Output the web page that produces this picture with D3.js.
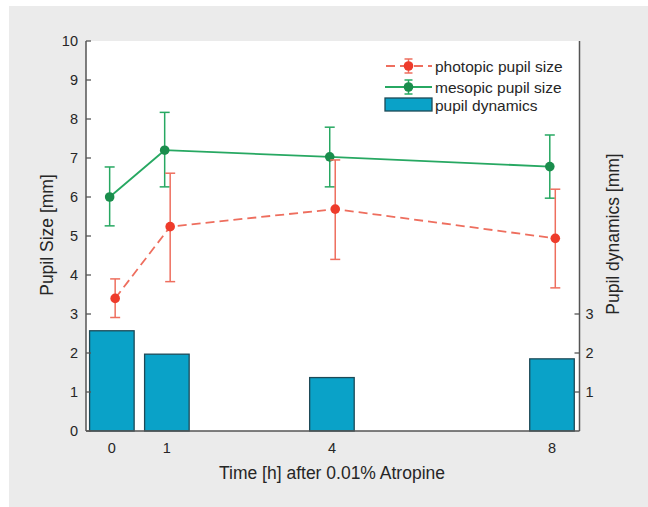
<!DOCTYPE html>
<html><head><meta charset="utf-8">
<script src="https://cdn.jsdelivr.net/npm/d3@7"></script>
<style>body{margin:0;background:#fff;} svg{display:block;font-family:"Liberation Sans",Arial,sans-serif;}</style>
</head><body>
<svg id="c" width="648" height="507"></svg>
<script>
const hours = [0, 1, 4, 8];
const xTicks = [0, 1, 4, 8];
const photopic = [3.40, 5.24, 5.69, 4.94];
const photopicLo = [2.91, 3.83, 4.40, 3.67];
const photopicHi = [3.90, 6.61, 6.95, 6.20];
const mesopic = [6.00, 7.20, 7.03, 6.78];
const mesopicLo = [5.26, 6.26, 6.26, 5.97];
const mesopicHi = [6.77, 8.17, 7.79, 7.59];
const dynamics = [2.57, 1.97, 1.37, 1.85];
const leftTicks = [0,1,2,3,4,5,6,7,8,9,10];
const rightTicks = [1,2,3];
const legendLabels = ["photopic pupil size","mesopic pupil size","pupil dynamics"];

const svg = d3.select("#c");
svg.append("rect").attr("x",9).attr("y",6).attr("width",639).attr("height",501).attr("fill","#ebebeb");

const L=86, R=579.5, T=41, B=431;
const x = d3.scaleLinear().domain([-0.47, 8.5]).range([L, R]);
const y = d3.scaleLinear().domain([0, 10]).range([B, T]);
const y2 = d3.scaleLinear().domain([0, 10]).range([B, T]);

svg.append("rect").attr("x",L).attr("y",T).attr("width",R-L).attr("height",B-T).attr("fill","#fff");

const barW = 0.81;
const barColor = "#0aa2c8", barStroke = "#1d4a57";
svg.append("g").selectAll("rect").data(hours).join("rect")
  .attr("x", (d)=>x(d-barW/2)).attr("width",(d)=>x(d+barW/2)-x(d-barW/2))
  .attr("y",(d,i)=>y2(dynamics[i])).attr("height",(d,i)=>y2(0)-y2(dynamics[i]))
  .attr("fill",barColor).attr("stroke",barStroke).attr("stroke-width",1.3);

const redLine="#ee6e5e", redMark="#ee3b2b", greenLine="#27a862", greenMark="#1a8d4c";
const gOff=-0.04, rOff=0.06, cap=5;

function series(vals, lo, hi, off, lc, mc, dash){
  const g = svg.append("g");
  const line = d3.line().x((d,i)=>x(hours[i]+off)).y(d=>y(d));
  g.append("path").datum(vals).attr("d",line).attr("fill","none").attr("stroke",lc)
    .attr("stroke-width",1.8).attr("stroke-dasharray",dash||null);
  hours.forEach((h,i)=>{
    const cx=x(h+off);
    g.append("line").attr("x1",cx).attr("x2",cx).attr("y1",y(lo[i])).attr("y2",y(hi[i])).attr("stroke",lc).attr("stroke-width",1.5);
    [lo[i],hi[i]].forEach(v=>g.append("line").attr("x1",cx-cap).attr("x2",cx+cap).attr("y1",y(v)).attr("y2",y(v)).attr("stroke",lc).attr("stroke-width",1.5));
    g.append("circle").attr("cx",cx).attr("cy",y(vals[i])).attr("r",4.8).attr("fill",mc);
  });
}
series(mesopic, mesopicLo, mesopicHi, gOff, greenLine, greenMark, null);
series(photopic, photopicLo, photopicHi, rOff, redLine, redMark, "9,5");

// axes
const axisColor="#555", txt="#262626";
const ax = svg.append("g");
ax.append("line").attr("x1",L).attr("x2",L).attr("y1",T).attr("y2",B).attr("stroke",axisColor).attr("stroke-width",1.5);
ax.append("line").attr("x1",R).attr("x2",R).attr("y1",T).attr("y2",B).attr("stroke",axisColor).attr("stroke-width",1.5);
ax.append("line").attr("x1",L).attr("x2",R).attr("y1",B).attr("y2",B).attr("stroke",axisColor).attr("stroke-width",1.5);
leftTicks.forEach(t=>{
  ax.append("line").attr("x1",L).attr("x2",L+5).attr("y1",y(t)).attr("y2",y(t)).attr("stroke",axisColor).attr("stroke-width",1.3);
  ax.append("text").attr("x",L-8).attr("y",y(t)).attr("dy","0.36em").attr("text-anchor","end")
    .attr("font-size",14.5).attr("fill",txt).text(t);
});
rightTicks.forEach(t=>{
  ax.append("line").attr("x1",R-5).attr("x2",R).attr("y1",y2(t)).attr("y2",y2(t)).attr("stroke",axisColor).attr("stroke-width",1.3);
  ax.append("text").attr("x",R+6).attr("y",y2(t)).attr("dy","0.36em").attr("text-anchor","start")
    .attr("font-size",14.5).attr("fill",txt).text(t);
});
xTicks.forEach(t=>{
  ax.append("text").attr("x",x(t)).attr("y",B+17).attr("dy","0.36em").attr("text-anchor","middle")
    .attr("font-size",14.5).attr("fill",txt).text(t);
});
ax.append("text").attr("x",332).attr("y",473).attr("dy","0.36em").attr("text-anchor","middle")
  .attr("font-size",17.5).attr("fill",txt).text("Time [h] after 0.01% Atropine");
ax.append("text").attr("transform","translate(47,235) rotate(-90)").attr("dy","0.36em").attr("text-anchor","middle")
  .attr("font-size",17.5).attr("fill",txt).text("Pupil Size [mm]");
ax.append("text").attr("transform","translate(613,234) rotate(-90)").attr("dy","0.36em").attr("text-anchor","middle")
  .attr("font-size",17.5).attr("fill",txt).text("Pupil dynamics [mm]");

// legend
const lg = svg.append("g");
const lx0=385, lx1=432, tx=435, rows=[66,87,105];
lg.append("line").attr("x1",lx0).attr("x2",lx1).attr("y1",rows[0]).attr("y2",rows[0]).attr("stroke",redLine).attr("stroke-width",1.8).attr("stroke-dasharray","9,5").attr("stroke-dashoffset",-1);
const mx=(lx0+lx1)/2;
lg.append("line").attr("x1",mx).attr("x2",mx).attr("y1",rows[0]-7).attr("y2",rows[0]+7).attr("stroke",redLine).attr("stroke-width",1.5);
[rows[0]-7,rows[0]+7].forEach(v=>lg.append("line").attr("x1",mx-4).attr("x2",mx+4).attr("y1",v).attr("y2",v).attr("stroke",redLine).attr("stroke-width",1.5));
lg.append("circle").attr("cx",mx).attr("cy",rows[0]).attr("r",4.8).attr("fill",redMark);
lg.append("line").attr("x1",lx0).attr("x2",lx1).attr("y1",rows[1]).attr("y2",rows[1]).attr("stroke",greenLine).attr("stroke-width",1.8);
lg.append("line").attr("x1",mx).attr("x2",mx).attr("y1",rows[1]-7).attr("y2",rows[1]+7).attr("stroke",greenLine).attr("stroke-width",1.5);
[rows[1]-7,rows[1]+7].forEach(v=>lg.append("line").attr("x1",mx-4).attr("x2",mx+4).attr("y1",v).attr("y2",v).attr("stroke",greenLine).attr("stroke-width",1.5));
lg.append("circle").attr("cx",mx).attr("cy",rows[1]).attr("r",4.8).attr("fill",greenMark);
lg.append("rect").attr("x",lx0).attr("y",rows[2]-7).attr("width",lx1-lx0).attr("height",13).attr("fill",barColor).attr("stroke",barStroke).attr("stroke-width",1.3);
legendLabels.forEach((s,i)=>lg.append("text").attr("x",tx).attr("y",rows[i]).attr("dy","0.36em").attr("font-size",15.5).attr("fill",txt).text(s));
</script>
</body></html>
